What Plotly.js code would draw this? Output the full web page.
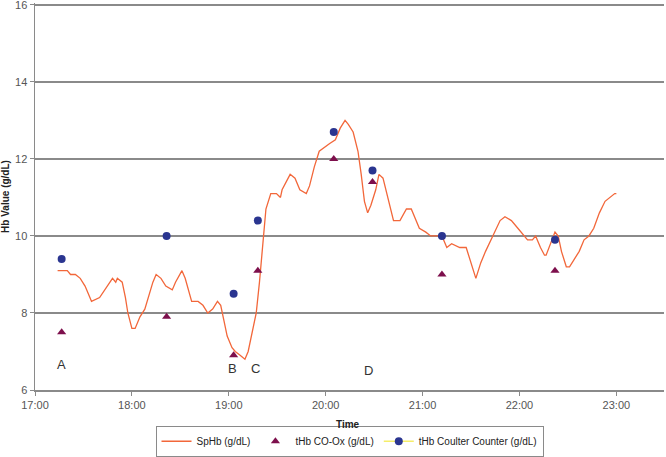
<!DOCTYPE html>
<html>
<head>
<meta charset="utf-8">
<script src="https://cdn.plot.ly/plotly-3.0.1.min.js"></script>
<style>
  html, body { margin: 0; padding: 0; background: #fff; }
  #chart { width: 666px; height: 457px; }
</style>
</head>
<body>
<div id="chart"></div>
<script>
// SpHb trace (time of day, g/dL)
var spTimes = ['17:14:00','17:20:00','17:22:00','17:25:00','17:28:00','17:31:00','17:34:00','17:35:00',
  '17:40:00','17:43:00','17:46:00','17:48:00','17:50:00','17:51:00','17:54:00','17:56:00','17:57:30',
  '18:00:00','18:02:00','18:05:00','18:08:00','18:10:00','18:13:00','18:15:00','18:18:00','18:21:00',
  '18:25:00','18:27:00','18:31:00','18:33:00','18:35:00','18:37:00','18:41:00','18:44:00','18:47:00',
  '18:50:00','18:53:00','18:55:00','18:57:00','18:59:00','19:02:00','19:04:00','19:07:00','19:10:00',
  '19:12:00','19:15:00','19:17:00','19:19:00','19:20:30','19:22:00','19:23:00','19:26:00','19:29:30',
  '19:32:00','19:33:00','19:38:00','19:41:00','19:44:00','19:48:00','19:50:00','19:53:00','19:56:00',
  '19:59:00','20:02:30','20:06:00','20:09:00','20:12:00','20:14:00','20:17:00','20:20:00','20:22:00',
  '20:24:00','20:26:00','20:28:00','20:31:00','20:33:00','20:35:30','20:39:00','20:42:00','20:46:00',
  '20:50:00','20:53:00','20:55:00','20:58:00','21:02:00','21:05:00','21:12:00','21:15:00','21:18:00',
  '21:23:00','21:27:00','21:30:00','21:33:00','21:36:00','21:39:00','21:43:30','21:48:00','21:51:00',
  '21:55:00','21:59:00','22:03:00','22:05:00','22:08:00','22:10:00','22:13:00','22:15:30','22:16:30',
  '22:20:00','22:22:00','22:24:00','22:26:00','22:29:00','22:31:00','22:34:00','22:37:00','22:40:00',
  '22:43:00','22:46:00','22:49:30','22:53:00','22:56:00','22:59:00','23:00:00'];
var spValues = [9.1,9.1,9.0,9.0,8.9,8.7,8.4,8.3,
  8.4,8.6,8.8,8.9,8.8,8.9,8.8,8.4,8.0,
  7.6,7.6,7.9,8.1,8.4,8.8,9.0,8.9,8.7,
  8.6,8.8,9.1,8.9,8.6,8.3,8.3,8.2,8.0,
  8.1,8.3,8.2,7.8,7.4,7.1,7.0,6.9,6.8,
  7.0,7.6,8.0,8.8,9.5,10.2,10.7,11.1,11.1,
  11.0,11.2,11.6,11.5,11.2,11.1,11.3,11.8,12.2,
  12.3,12.4,12.5,12.8,13.0,12.9,12.7,12.2,11.6,
  10.9,10.6,10.8,11.2,11.6,11.5,10.9,10.4,10.4,
  10.7,10.7,10.5,10.2,10.1,10.0,10.0,9.7,9.8,
  9.7,9.7,9.3,8.9,9.3,9.6,10.0,10.4,10.5,
  10.4,10.2,10.0,9.9,9.9,10.0,9.7,9.5,9.5,
  9.9,10.1,10.0,9.6,9.2,9.2,9.4,9.6,9.9,
  10.0,10.2,10.6,10.9,11.0,11.1,11.1];

// lab samples
var labTimes = ['17:16:30','18:21:30','19:03:00','19:18:00','20:05:00','20:29:00','21:12:00','22:22:00'];
var coOxValues = [7.5,7.9,6.9,9.1,12.0,11.4,9.0,9.1];
var coulterValues = [9.4,10.0,8.5,10.4,12.7,11.7,10.0,9.9];

// letter labels
var noteTexts = ['A','B','C','D'];
var noteTimes = ['17:16:30','19:02:30','19:16:30','20:26:30'];
var noteValues = [6.65,6.55,6.55,6.5];

var day = '2012-01-01 ';
function toDate(list){ return list.map(function(t){ return day + t }) }

// coulter series: gaps between points so the yellow line only shows in the legend
var cx = [], cy = [];
toDate(labTimes).forEach(function(t, i){
  cx.push(t); cy.push(coulterValues[i]);
  cx.push(t); cy.push(null);
});

var traces = [
  {
    x: toDate(spTimes), y: spValues, type: 'scatter', mode: 'lines',
    name: 'SpHb (g/dL)', line: {color: '#f2673a', width: 1.3}
  },
  {
    x: toDate(labTimes), y: coOxValues, type: 'scatter', mode: 'markers',
    name: 'tHb CO-Ox (g/dL)', marker: {symbol: 'triangle-up', color: '#7d0f4c', size: 8}
  },
  {
    x: cx, y: cy, type: 'scatter', mode: 'lines+markers', connectgaps: false,
    name: 'tHb Coulter Counter (g/dL)',
    line: {color: '#f5ee6a', width: 1.5},
    marker: {symbol: 'circle', color: '#2a3590', size: 8}
  }
];

var annotations = noteTexts.map(function(txt, i){
  return {
    x: day + noteTimes[i], y: noteValues[i], text: txt, showarrow: false,
    font: {family: 'Liberation Sans, Arial', size: 13, color: '#333'}
  }
});
// x axis title, placed by hand since the title standoff moves around with autoexpand off
annotations.push({
  xref: 'paper', yref: 'paper', x: 0.497, y: -0.0904, yanchor: 'middle',
  text: '<b>Time</b>', showarrow: false,
  font: {family: 'Liberation Sans, Arial', size: 10, color: '#222'}
});

var layout = {
  width: 666, height: 457,
  margin: {l: 35, r: 2, t: 3, b: 67, autoexpand: false},
  paper_bgcolor: '#fff', plot_bgcolor: '#fff',
  font: {family: 'Liberation Sans, Arial', size: 11, color: '#555'},
  showlegend: true,
  legend: {
    orientation: 'h', x: 0.5, xanchor: 'center', y: -0.1725, yanchor: 'bottom',
    bordercolor: '#8a8a8a', borderwidth: 1,
    font: {family: 'Liberation Sans, Arial', size: 10, color: '#222'},
    itemwidth: 30, tracegroupgap: 0
  },
  xaxis: {
    type: 'date', range: [day + '17:00:00', day + '23:29:30'],
    dtick: 3600000, tickformat: '%H:%M',
    tick0: day + '17:00:00',
    showgrid: false, zeroline: false,
    showline: true, linecolor: '#8a8a8a', linewidth: 1.5,
    ticks: 'outside', ticklen: 4, tickcolor: '#8a8a8a',
    tickfont: {size: 11, color: '#555'}
  },
  yaxis: {
    range: [6, 16.05], tickvals: [6, 8, 10, 12, 14, 16], fixedrange: true,
    ticklabeloverflow: 'allow',
    showgrid: true, gridcolor: '#8a8a8a', gridwidth: 1.5, zeroline: false,
    showline: true, linecolor: '#8a8a8a', linewidth: 1.5,
    ticks: 'outside', ticklen: 4, tickcolor: '#8a8a8a',
    tickfont: {size: 11, color: '#555'},
    title: {text: 'Hb Value (g/dL)', standoff: 4, font: {size: 10, color: '#222', weight: 'bold'}}
  },
  annotations: annotations
};

Plotly.newPlot('chart', traces, layout, {displayModeBar: false, staticPlot: true});
</script>
</body>
</html>
